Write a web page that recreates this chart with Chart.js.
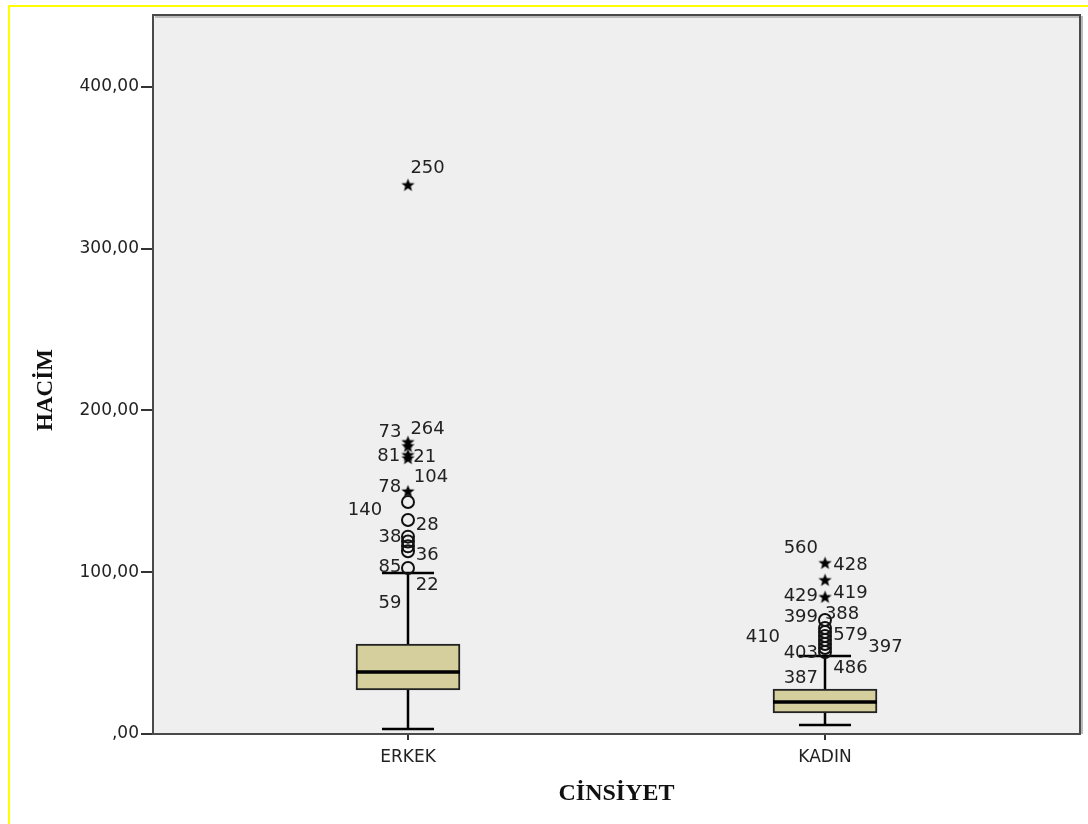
<!DOCTYPE html>
<html>
<head>
<meta charset="utf-8">
<script src="https://cdn.jsdelivr.net/npm/chart.js@4.4.1/dist/chart.umd.min.js"></script>
<style>
  html, body { margin: 0; padding: 0; background: #fff; }
  #wrap { width: 1088px; height: 824px; }
</style>
</head>
<body>
<div id="wrap"><canvas id="boxChart" width="1088" height="824"></canvas></div>
<script>
// categories and box statistics
const categories = ['ERKEK', 'KADIN'];
const q1 = [27.2, 13.0];
const medians = [38.3, 19.8];
const q3 = [55.6, 27.8];
const whiskerLow = [3.1, 5.6];
const whiskerHigh = [99.5, 48.2];

// outliers: circles and extreme (star) values, per category
const circleOutliers = [
    [143.4, 132.3, 122, 119, 116, 113, 102.6],
    [70.5, 65.5, 63.1, 60.6, 58.1, 55.6, 53.2, 50.7]
];
const starOutliers = [
    [339.4, 180.5, 178, 172.5, 170.5, 150],
    [105.7, 95.2, 84.7]
];

// case numbers written next to the outliers (anchor in data units)
const caseLabels = ['250', '73', '264', '81', '21', '104', '78', '140', '28', '38', '36', '85', '22', '59',
    '560', '428', '419', '429', '388', '399', '579', '410', '397', '403', '486', '387'];
const caseLabelX = [0.047, -0.043, 0.047, -0.046, 0.040, 0.055, -0.044, -0.103, 0.046, -0.043, 0.046, -0.043, 0.046, -0.043,
    0.942, 1.061, 1.061, 0.942, 1.041, 0.942, 1.061, 0.851, 1.145, 0.942, 1.061, 0.942];
const caseLabelY = [349.9, 186.7, 188.6, 171.9, 171.3, 158.9, 152.7, 138.5, 129.2, 121.8, 110.7, 103.2, 92.1, 81.0,
    115.0, 104.5, 87.2, 85.3, 74.2, 72.3, 61.2, 60.0, 53.8, 50.1, 40.8, 34.6];

const yTicks = [0, 100, 200, 300, 400];

const BOX_HALF = 0.1247;
const CAP_HALF = 0.0624;

// little filled star for extreme values
function makeStar() {
    const c = document.createElement('canvas');
    c.width = 15; c.height = 15;
    const g = c.getContext('2d');
    g.fillStyle = '#000';
    g.beginPath();
    for (let i = 0; i < 10; i++) {
        const r = i % 2 === 0 ? 7 : 2.9;
        const a = -Math.PI / 2 + i * Math.PI / 5;
        const px = 7.5 + r * Math.cos(a), py = 7.9 + r * Math.sin(a);
        if (i === 0) g.moveTo(px, py); else g.lineTo(px, py);
    }
    g.closePath();
    g.fill();
    return c;
}
const starImg = makeStar();

// build datasets from the arrays
const boxData = categories.map((c, i) => ({ x: i, y: [q1[i], q3[i]] }));
const medianData = [];
const whiskerData = [];
const capData = [];
categories.forEach((c, i) => {
    medianData.push({ x: i - BOX_HALF, y: medians[i] }, { x: i + BOX_HALF, y: medians[i] }, { x: i, y: null });
    whiskerData.push({ x: i, y: whiskerLow[i] }, { x: i, y: q1[i] }, { x: i, y: null });
    whiskerData.push({ x: i, y: q3[i] }, { x: i, y: whiskerHigh[i] }, { x: i, y: null });
    capData.push({ x: i - CAP_HALF, y: whiskerLow[i] }, { x: i + CAP_HALF, y: whiskerLow[i] }, { x: i, y: null });
    capData.push({ x: i - CAP_HALF, y: whiskerHigh[i] }, { x: i + CAP_HALF, y: whiskerHigh[i] }, { x: i, y: null });
});
const circleData = [];
circleOutliers.forEach((vals, i) => vals.forEach(v => circleData.push({ x: i, y: v })));
const starData = [];
starOutliers.forEach((vals, i) => vals.forEach(v => starData.push({ x: i, y: v })));

// background, yellow frame, plot frame, case labels and y title
const framePlugin = {
    id: 'framePlugin',
    beforeDraw(chart) {
        const ctx = chart.ctx;
        const a = chart.chartArea;
        ctx.save();
        ctx.fillStyle = '#ffffff';
        ctx.fillRect(0, 0, chart.width, chart.height);
        ctx.strokeStyle = '#ffff00';
        ctx.lineWidth = 2;
        ctx.beginPath();
        ctx.moveTo(9, chart.height);
        ctx.lineTo(9, 6);
        ctx.lineTo(chart.width, 6);
        ctx.stroke();
        ctx.fillStyle = '#efefef';
        ctx.fillRect(a.left, a.top, a.right - a.left, a.bottom - a.top);
        ctx.restore();
    },
    beforeDatasetsDraw(chart) {
        const ctx = chart.ctx;
        const a = chart.chartArea;
        ctx.save();
        ctx.strokeStyle = '#bbbbbb';
        ctx.lineWidth = 2;
        ctx.beginPath();
        ctx.moveTo(a.left + 2, a.top + 2);
        ctx.lineTo(a.right + 2, a.top + 2);
        ctx.lineTo(a.right + 2, a.bottom);
        ctx.stroke();
        ctx.strokeStyle = '#4a4a4a';
        ctx.strokeRect(a.left, a.top, a.right - a.left, a.bottom - a.top);
        ctx.restore();
    },
    afterDatasetsDraw(chart) {
        const ctx = chart.ctx;
        const xs = chart.scales.x, ys = chart.scales.y;
        ctx.save();
        ctx.font = '18px "DejaVu Sans"';
        ctx.fillStyle = '#222222';
        ctx.textAlign = 'center';
        ctx.textBaseline = 'middle';
        caseLabels.forEach((t, i) => {
            ctx.fillText(t, xs.getPixelForValue(caseLabelX[i]), ys.getPixelForValue(caseLabelY[i]));
        });
        // y axis title
        ctx.translate(46, 390);
        ctx.rotate(-Math.PI / 2);
        ctx.font = 'bold 23px "Liberation Serif"';
        ctx.fillStyle = '#111111';
        ctx.fillText('HACİM', 0, 0);
        ctx.restore();
    }
};

new Chart(document.getElementById('boxChart').getContext('2d'), {
    type: 'bar',
    data: {
        datasets: [
            {
                type: 'bar',
                data: boxData,
                backgroundColor: '#d4cf9c',
                borderColor: '#222222',
                borderWidth: 2,
                borderSkipped: false,
                barThickness: 104,
                order: 3
            },
            {
                type: 'line',
                data: whiskerData,
                borderColor: '#000000',
                borderWidth: 2.5,
                pointRadius: 0,
                spanGaps: false,
                order: 2
            },
            {
                type: 'line',
                data: capData,
                borderColor: '#000000',
                borderWidth: 2.5,
                pointRadius: 0,
                spanGaps: false,
                order: 2
            },
            {
                type: 'line',
                data: medianData,
                borderColor: '#000000',
                borderWidth: 3.5,
                pointRadius: 0,
                spanGaps: false,
                order: 1
            },
            {
                type: 'scatter',
                data: circleData,
                pointStyle: 'circle',
                pointRadius: 6,
                borderWidth: 2,
                borderColor: '#111111',
                backgroundColor: 'rgba(0,0,0,0)',
                order: 0
            },
            {
                type: 'scatter',
                data: starData,
                pointStyle: starImg,
                pointRadius: 7,
                order: 0
            }
        ]
    },
    options: {
        responsive: false,
        animation: false,
        events: [],
        layout: { padding: { left: 0, top: 15, right: 8, bottom: 0 } },
        plugins: {
            legend: { display: false },
            tooltip: { enabled: false }
        },
        scales: {
            x: {
                type: 'linear',
                min: -0.6115,
                max: 1.6115,
                offset: false,
                afterFit: function (scale) { scale.height = 90; },
                afterBuildTicks: function (scale) {
                    scale.ticks = categories.map((c, i) => ({ value: i }));
                },
                ticks: {
                    padding: 7,
                    maxRotation: 0,
                    color: '#222222',
                    font: { family: 'DejaVu Sans', size: 17 },
                    callback: function (value) { return categories[value]; }
                },
                grid: {
                    display: true,
                    offset: false,
                    drawOnChartArea: false,
                    drawTicks: true,
                    tickLength: 6,
                    color: '#333333',
                    lineWidth: 2
                },
                border: { display: false },
                title: {
                    display: true,
                    text: 'CİNSİYET',
                    color: '#111111',
                    font: { family: 'Liberation Serif', size: 24, weight: 'bold' },
                    padding: { top: 0, bottom: 16 }
                }
            },
            y: {
                min: 0,
                max: 444.5,
                afterFit: function (scale) { scale.width = 153; },
                afterBuildTicks: function (scale) {
                    scale.ticks = yTicks.map(v => ({ value: v }));
                },
                ticks: {
                    padding: 2,
                    color: '#222222',
                    font: { family: 'DejaVu Sans', size: 17 },
                    callback: function (value) { return value === 0 ? ',00' : value + ',00'; }
                },
                grid: {
                    display: true,
                    drawOnChartArea: false,
                    drawTicks: true,
                    tickLength: 12,
                    color: '#333333',
                    lineWidth: 2
                },
                border: { display: false },
                title: { display: false }
            }
        }
    },
    plugins: [framePlugin]
});
</script>
</body>
</html>
